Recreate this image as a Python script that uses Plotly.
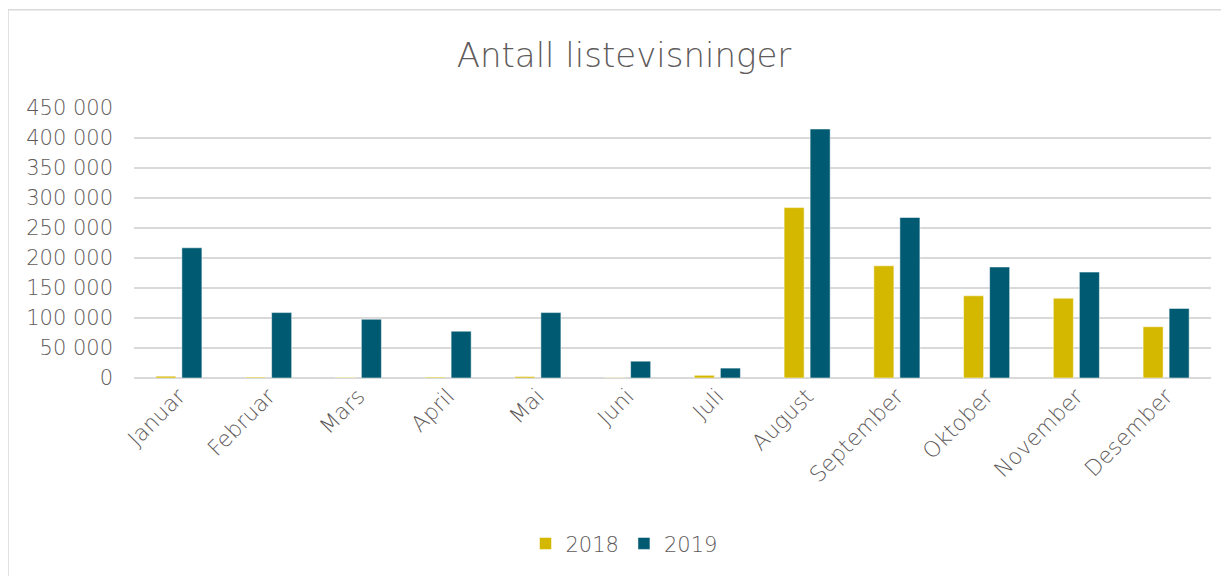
import plotly.graph_objects as go

months = ["Januar", "Februar", "Mars", "April", "Mai", "Juni", "Juli",
          "August", "September", "Oktober", "November", "Desember"]
values_2018 = [3000, 1500, 1000, 1500, 2500, 500, 4500,
               284000, 187000, 137000, 133000, 85500]
values_2019 = [217000, 109000, 98000, 78000, 109000, 28000, 16500,
               415000, 267500, 185000, 176500, 116000]
y_ticks = [0, 50000, 100000, 150000, 200000, 250000, 300000, 350000, 400000, 450000]

TEXT = "#5F5B5B"
FONT = "DejaVu Sans"
WT = 300
OFF = 8  # page body margin
W, H = 1229 - OFF, 576 - OFF
L, R, T, B = 134 - OFF, 18, 108 - OFF, 576 - 380
pw, ph = W - L - R, H - T - B

fig = go.Figure()
fig.add_trace(go.Bar(name="2018", x=months, y=values_2018,
                     marker=dict(color="#D4B800", line=dict(color="rgba(255,255,255,0.5)", width=1))))
fig.add_trace(go.Bar(name="2019", x=months, y=values_2019,
                     marker=dict(color="#005A72", line=dict(color="rgba(255,255,255,0.5)", width=1))))

fig.update_layout(
    width=W, height=H,
    margin=dict(l=L, r=R, t=T, b=B),
    paper_bgcolor="white", plot_bgcolor="white",
    separators=", ",
    barmode="group", bargap=0.42, bargroupgap=0.23,
    font=dict(family=FONT, color=TEXT, weight=WT),
    title=dict(text="Antall listevisninger", x=(624 - OFF) / W, xanchor="center",
               y=1 - (55 - OFF) / H, yanchor="middle",
               font=dict(family=FONT, size=34, color=TEXT, weight=WT)),
    legend=dict(orientation="h", x=(624 - 134) / pw, xanchor="center",
                y=(380 - 547) / ph, yanchor="middle",
                font=dict(family=FONT, size=21, color=TEXT, weight=WT),
                itemwidth=30, traceorder="normal"),
    xaxis=dict(tickangle=-45, tickfont=dict(family=FONT, size=22, color=TEXT, weight=WT),
               showgrid=False, showline=False, ticks=""),
    yaxis=dict(range=[0, 450000], tickvals=y_ticks, tickformat=",d",
               tickfont=dict(family=FONT, size=21, color=TEXT, weight=WT),
               showgrid=True, gridcolor="#D9D9D9", gridwidth=1.5,
               zeroline=True, zerolinecolor="#D9D9D9", zerolinewidth=1.5,
               showline=False, ticks="", ticklabelstandoff=20),
    shapes=[dict(type="rect", xref="paper", yref="paper",
                 x0=(8 - 134) / pw, x1=(W + 40 - L) / pw,
                 y0=(380 - 576 - 20) / ph, y1=(380 - 9) / ph,
                 line=dict(color="#D9D9D9", width=1.5), fillcolor="rgba(0,0,0,0)",
                 layer="below")],
)

fig.write_html("out.html")
